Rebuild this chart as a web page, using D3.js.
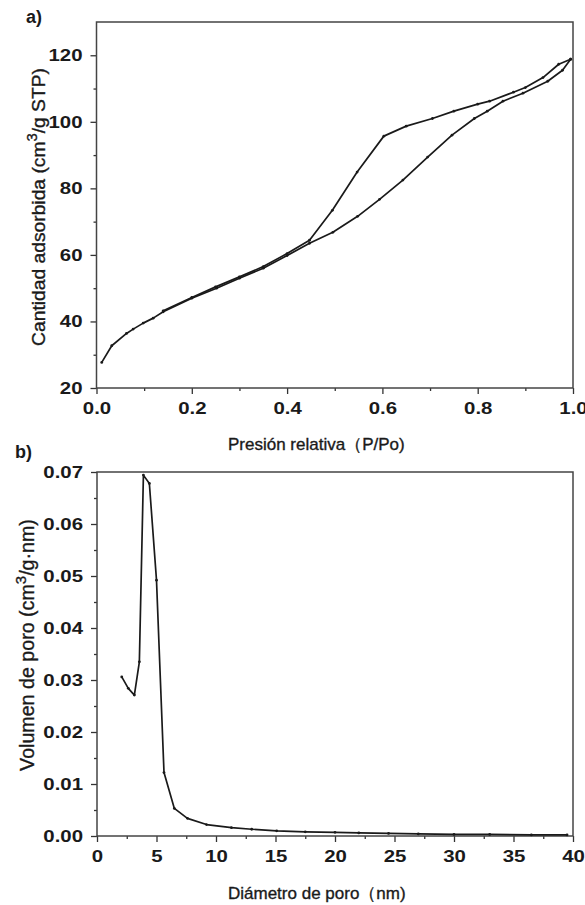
<!DOCTYPE html>
<html>
<head>
<meta charset="utf-8">
<script src="https://cdn.jsdelivr.net/npm/d3@7"></script>
<style>
  body { margin: 0; background: #fff; }
  text { font-family: "Liberation Sans", Arial, sans-serif; fill: #1a1a1a; }
</style>
</head>
<body>
<div id="plot"></div>
<script>
// isotherm (a)
const adsP = [0.011, 0.032, 0.063, 0.077, 0.098, 0.119, 0.14, 0.2, 0.252, 0.3, 0.35, 0.4, 0.447, 0.496, 0.548, 0.594, 0.643, 0.695, 0.746, 0.793, 0.82, 0.853, 0.895, 0.947, 0.978, 0.995];
const adsV = [27.7, 32.7, 36.4, 37.7, 39.5, 41.0, 42.9, 47.0, 50.0, 53.0, 56.0, 59.8, 63.5, 66.8, 71.6, 76.7, 82.5, 89.4, 96.0, 101.0, 103.2, 106.2, 108.6, 112.2, 115.5, 118.8];
const desP = [0.995, 0.97, 0.937, 0.90, 0.875, 0.825, 0.80, 0.75, 0.705, 0.65, 0.603, 0.547, 0.495, 0.447, 0.4, 0.35, 0.3, 0.25, 0.2, 0.14];
const desV = [118.8, 117.3, 113.3, 110.3, 108.9, 106.2, 105.3, 103.2, 101.0, 98.7, 95.7, 84.9, 73.4, 64.4, 60.4, 56.5, 53.4, 50.4, 47.2, 43.2];

// pore size distribution (b)
const poreD = [2.08, 2.63, 3.14, 3.56, 3.9, 4.4, 5.0, 5.63, 6.5, 7.6, 9.2, 11.3, 13.0, 15.1, 17.5, 20.0, 22.0, 24.5, 27.0, 30.0, 33.0, 36.5, 39.5];
const poreV = [0.0306, 0.0284, 0.0271, 0.0335, 0.0694, 0.0678, 0.0492, 0.0122, 0.0053, 0.0034, 0.0022, 0.0016, 0.0013, 0.0010, 0.0008, 0.0007, 0.0006, 0.0005, 0.0004, 0.0003, 0.0003, 0.0002, 0.0002];

const aXTicks = [0, 0.2, 0.4, 0.6, 0.8, 1.0];
const aYTicks = [20, 40, 60, 80, 100, 120];
const bXTicks = [0, 5, 10, 15, 20, 25, 30, 35, 40];
const bYTicks = [0, 0.01, 0.02, 0.03, 0.04, 0.05, 0.06, 0.07];

const W = 585, H = 905;
const svg = d3.select("#plot").append("svg").attr("width", W).attr("height", H);

// stretch text a bit wider like the scanned figure
function widen(sel, k) {
  sel.each(function() {
    const w = this.getComputedTextLength();
    d3.select(this).attr("textLength", w * k).attr("lengthAdjust", "spacingAndGlyphs");
  });
}

function panel(opt) {
  const x = d3.scaleLinear().domain(opt.xDomain).range([opt.left, opt.right]);
  const y = d3.scaleLinear().domain(opt.yDomain).range([opt.bottom, opt.top]);
  const g = svg.append("g");

  // minor ticks
  g.append("g")
    .attr("transform", "translate(0," + opt.bottom + ")")
    .call(d3.axisBottom(x).tickValues(opt.xMinor).tickSize(3).tickFormat(""))
    .call(a => a.select(".domain").remove());
  g.append("g")
    .attr("transform", "translate(" + opt.left + ",0)")
    .call(d3.axisLeft(y).tickValues(opt.yMinor).tickSize(3).tickFormat(""))
    .call(a => a.select(".domain").remove());

  // major ticks
  const xa = g.append("g")
    .attr("transform", "translate(0," + opt.bottom + ")")
    .call(d3.axisBottom(x).tickValues(opt.xTicks).tickSize(6).tickPadding(8).tickFormat(opt.xFmt));
  const ya = g.append("g")
    .attr("transform", "translate(" + opt.left + ",0)")
    .call(d3.axisLeft(y).tickValues(opt.yTicks).tickSize(6).tickPadding(8).tickFormat(opt.yFmt));
  [xa, ya].forEach(a => {
    a.select(".domain").remove();
    a.selectAll("text").attr("font-size", 17).attr("font-weight", "bold").attr("fill", "#1a1a1a")
      .style("font-family", "'Liberation Sans', Arial, sans-serif");
  });
  g.selectAll(".tick line").attr("stroke", "#333").attr("stroke-width", 1.3);
  widen(xa.selectAll("text"), 1.2);
  widen(ya.selectAll("text"), 1.2);

  // frame
  g.append("rect")
    .attr("x", opt.left).attr("y", opt.top)
    .attr("width", opt.right - opt.left).attr("height", opt.bottom - opt.top)
    .attr("fill", "none").attr("stroke", "#444").attr("stroke-width", 1.5);

  const line = d3.line().x(d => x(d[0])).y(d => y(d[1]));
  opt.series.forEach(s => {
    const pts = s.xs.map((v, i) => [v, s.ys[i]]);
    g.append("path").datum(pts)
      .attr("fill", "none").attr("stroke", "#1a1a1a").attr("stroke-width", 1.7)
      .attr("stroke-linejoin", "round")
      .attr("d", line);
    g.append("g").selectAll("circle").data(pts).enter().append("circle")
      .attr("cx", d => x(d[0])).attr("cy", d => y(d[1])).attr("r", 1.4)
      .attr("fill", "#1a1a1a");
  });
  return g;
}

panel({
  left: 96.5, right: 573, top: 22, bottom: 388,
  xDomain: [0, 1], yDomain: [20, 130],
  xTicks: aXTicks, yTicks: aYTicks,
  xMinor: [0.1, 0.3, 0.5, 0.7, 0.9], yMinor: [30, 50, 70, 90, 110],
  xFmt: d3.format(".1f"), yFmt: d3.format("d"),
  series: [{xs: adsP, ys: adsV}, {xs: desP, ys: desV}]
});

panel({
  left: 97, right: 573, top: 472, bottom: 836,
  xDomain: [0, 40], yDomain: [0, 0.07],
  xTicks: bXTicks, yTicks: bYTicks,
  xMinor: [2.5, 7.5, 12.5, 17.5, 22.5, 27.5, 32.5, 37.5],
  yMinor: [0.005, 0.015, 0.025, 0.035, 0.045, 0.055, 0.065],
  xFmt: d3.format("d"), yFmt: d3.format(".2f"),
  series: [{xs: poreD, ys: poreV}]
});

// panel letters
svg.append("text").attr("x", 26).attr("y", 23).attr("font-size", 18).attr("font-weight", "bold").text("a)");
svg.append("text").attr("x", 15).attr("y", 458).attr("font-size", 18).attr("font-weight", "bold").text("b)");

// axis titles
function heavy(sel) {
  return sel.attr("stroke", "#1a1a1a").attr("stroke-width", 0.35);
}
heavy(svg.append("text").attr("x", 228).attr("y", 450).attr("font-size", 17).text("Presión relativa（P/Po)"));
heavy(svg.append("text").attr("x", 228).attr("y", 899).attr("font-size", 17).text("Diámetro de poro（nm)"));

// rotated titles, sized to the span they take in the figure
function yTitle(cx, cy, pre, post, len) {
  const t = svg.append("text").attr("transform", "translate(" + cx + "," + cy + ") rotate(-90)")
    .attr("text-anchor", "middle").attr("font-size", 17);
  t.append("tspan").text(pre);
  t.append("tspan").attr("font-size", 13).attr("dy", -7).text("3");
  t.append("tspan").attr("dy", 7).text(post);
  const w = t.node().getComputedTextLength();
  const k = len / w;
  t.attr("font-size", 17 * k);
  t.selectAll("tspan").filter((d, i) => i === 1).attr("font-size", 13 * k).attr("dy", -7 * k);
  t.selectAll("tspan").filter((d, i) => i === 2).attr("dy", 7 * k);
  heavy(t);
}
yTitle(45, 207, "Cantidad adsorbida (cm", "/g STP)", 278);
yTitle(34, 645, "Volumen de poro (cm", "/g·nm)", 252);
</script>
</body>
</html>
